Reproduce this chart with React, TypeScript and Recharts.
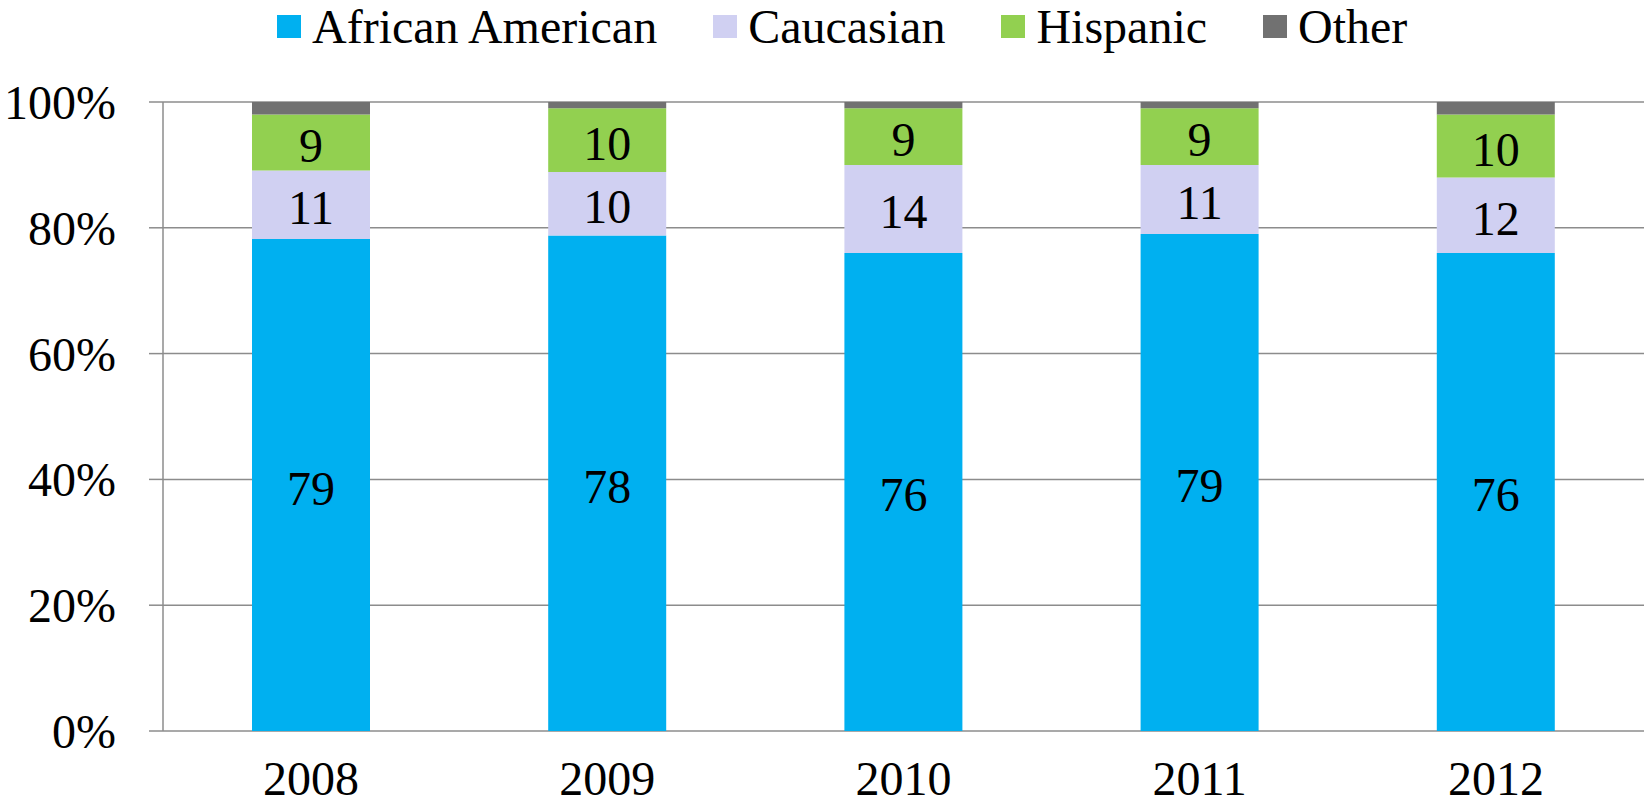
import { Bar, BarChart, CartesianGrid, LabelList, XAxis, YAxis } from 'recharts'

const years = ['2008', '2009', '2010', '2011', '2012']
const africanAmerican = [79, 78, 76, 79, 76]
const caucasian = [11, 10, 14, 11, 12]
const hispanic = [9, 10, 9, 9, 10]
const other = [2, 1, 1, 1, 2]
const percentTicks = [0, 0.2, 0.4, 0.6, 0.8, 1]
const boundaryTicks = [0, 1, 2, 3, 4, 5]

const FONT = 'Liberation Serif, Tinos, Times New Roman, DejaVu Serif, serif'
const FONT_SIZE = 48
const AXIS_GRAY = '#8c8c8c'

const series = [
  { key: 'aa', name: 'African American', color: '#00b0f0', values: africanAmerican, labelled: true },
  { key: 'cauc', name: 'Caucasian', color: '#d0d0f2', values: caucasian, labelled: true },
  { key: 'hisp', name: 'Hispanic', color: '#92d050', values: hispanic, labelled: true },
  { key: 'other', name: 'Other', color: '#717171', values: other, labelled: false },
]

const chartData = years.map((year, i) => ({
  year,
  aa: africanAmerican[i],
  cauc: caucasian[i],
  hisp: hispanic[i],
  other: other[i],
}))

function segmentLabel(values: number[]) {
  return (props: any) => {
    const box = props.viewBox ?? props
    const x = Number(box.x ?? props.x)
    const y = Number(box.y ?? props.y)
    const w = Number(box.width ?? props.width)
    const h = Number(box.height ?? props.height)
    const value = props.index != null ? values[props.index] : props.value
    return (
      <text
        x={x + w / 2}
        y={y + h / 2}
        dy={3}
        textAnchor="middle"
        dominantBaseline="central"
        fontSize={FONT_SIZE}
        fontFamily={FONT}
        fill="#000"
      >
        {value}
      </text>
    )
  }
}

// legend sits above the plot, left aligned like the original export
function LegendRow() {
  return (
    <div
      style={{
        position: 'absolute',
        left: 277,
        top: 0,
        display: 'flex',
        alignItems: 'center',
        fontFamily: FONT,
        fontSize: FONT_SIZE,
        lineHeight: '53px',
        color: '#000',
        whiteSpace: 'nowrap',
      }}
    >
      {series.map((s, i) => (
        <span key={s.key} style={{ display: 'flex', alignItems: 'center', marginLeft: i ? 56 : 0 }}>
          <span style={{ width: 24, height: 23, background: s.color, marginRight: 11, display: 'inline-block' }} />
          {s.name}
        </span>
      ))}
    </div>
  )
}

export default function App() {
  return (
    <div style={{ position: 'fixed', left: 0, top: 0, width: 1646, height: 806, background: '#fff' }}>
      <BarChart
        width={1646}
        height={806}
        data={chartData}
        stackOffset="expand"
        barCategoryGap="30%"
        margin={{ top: 102, right: 2, bottom: 0, left: 0 }}
      >
        <CartesianGrid xAxisId="cat" vertical={false} stroke={AXIS_GRAY} strokeWidth={1.5} />
        <XAxis
          xAxisId="edges"
          type="number"
          domain={[0, 5]}
          ticks={boundaryTicks}
          tick={false}
          tickSize={13}
          height={0}
          axisLine={{ stroke: AXIS_GRAY, strokeWidth: 1.5 }}
          tickLine={{ stroke: AXIS_GRAY, strokeWidth: 1.5 }}
          allowDataOverflow
        />
        <XAxis
          xAxisId="cat"
          dataKey="year"
          height={75}
          axisLine={false}
          tickLine={false}
          tickSize={0}
          tickMargin={30}
          tick={{ fill: '#000', fontSize: FONT_SIZE, fontFamily: FONT }}
        />
        <YAxis
          width={163}
          domain={[0, 1]}
          ticks={percentTicks}
          tickFormatter={(v) => `${Math.round(Number(v) * 100)}%`}
          tickSize={14}
          tickMargin={33}
          axisLine={{ stroke: AXIS_GRAY, strokeWidth: 1.5 }}
          tickLine={{ stroke: AXIS_GRAY, strokeWidth: 1.5 }}
          tick={{ fill: '#000', fontSize: FONT_SIZE, fontFamily: FONT }}
        />
        {series.map((s) => (
          <Bar
            key={s.key}
            xAxisId="cat"
            dataKey={s.key}
            name={s.name}
            stackId="race"
            fill={s.color}
            barSize={118}
            isAnimationActive={false}
          >
            {s.labelled && <LabelList dataKey={s.key} content={segmentLabel(s.values)} />}
          </Bar>
        ))}
      </BarChart>
      <LegendRow />
    </div>
  )
}
